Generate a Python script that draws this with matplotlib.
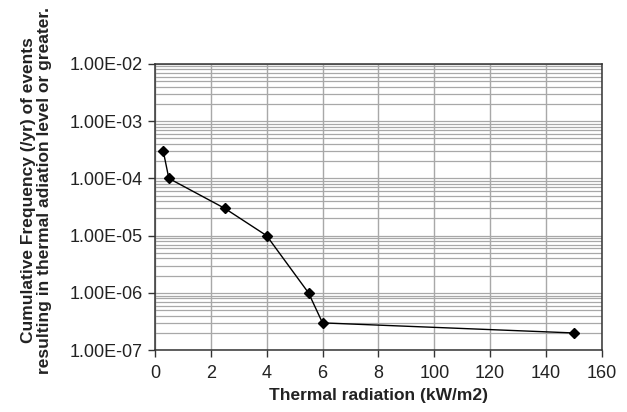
import numpy as np
import matplotlib
matplotlib.use('Agg')
import matplotlib.pyplot as plt
from matplotlib.ticker import LogLocator, NullFormatter

# thermal radiation position on the axis (last point sits at the "150" spot)
radiation = [0.3, 0.5, 2.5, 4.0, 5.5, 6.0, 15.0]
frequency = [3e-4, 1e-4, 3e-5, 1e-5, 1e-6, 3e-7, 2e-7]

xtick_pos = [0, 2, 4, 6, 8, 10, 12, 14, 16]
xtick_labels = ['0', '2', '4', '6', '8', '100', '120', '140', '160']
ytick_vals = [1e-7, 1e-6, 1e-5, 1e-4, 1e-3, 1e-2]
ytick_labels = ['1.00E-07', '1.00E-06', '1.00E-05', '1.00E-04', '1.00E-03', '1.00E-02']

plt.rcParams['font.family'] = ['Liberation Sans', 'DejaVu Sans']

fig = plt.figure(figsize=(6.27, 4.12), dpi=100)
ax = fig.add_axes([0.247, 0.150, 0.713, 0.695])

ax.set_yscale('log')
ax.set_xlim(0, 16)
ax.set_ylim(1e-7, 1e-2)

ax.set_xticks(xtick_pos)
ax.set_xticklabels(xtick_labels)
ax.set_yticks(ytick_vals)
ax.set_yticklabels(ytick_labels)
ax.yaxis.set_minor_locator(LogLocator(base=10, subs=np.arange(2, 10)))
ax.yaxis.set_minor_formatter(NullFormatter())

ax.grid(True, which='major', axis='x', color='#a8a8a8', lw=1.0)
ax.grid(True, which='both', axis='y', color='#a8a8a8', lw=0.9)
ax.set_axisbelow(True)

ax.tick_params(axis='both', which='major', labelsize=13, color='#333333',
               labelcolor='#222222', length=5, width=1, direction='out')
ax.tick_params(axis='y', which='minor', length=0)
ax.tick_params(axis='x', pad=6)

for s in ax.spines.values():
    s.set_color('#333333')
    s.set_linewidth(1.1)

ax.plot(radiation, frequency, color='black', lw=1.0, marker='D',
        markersize=5.5, markerfacecolor='black', markeredgecolor='black')

ax.set_xlabel('Thermal radiation (kW/m2)', fontsize=12.5, fontweight='bold',
              labelpad=4, color='#222222')
fig.text(0.058, 0.538, 'Cumulative Frequency (/yr) of events\nresulting in thermal adiation level or greater.',
         rotation=90, ha='center', va='center', fontsize=12.5, fontweight='bold',
         multialignment='center', linespacing=1.1, color='#222222')

fig.savefig('out.png', dpi=100)
